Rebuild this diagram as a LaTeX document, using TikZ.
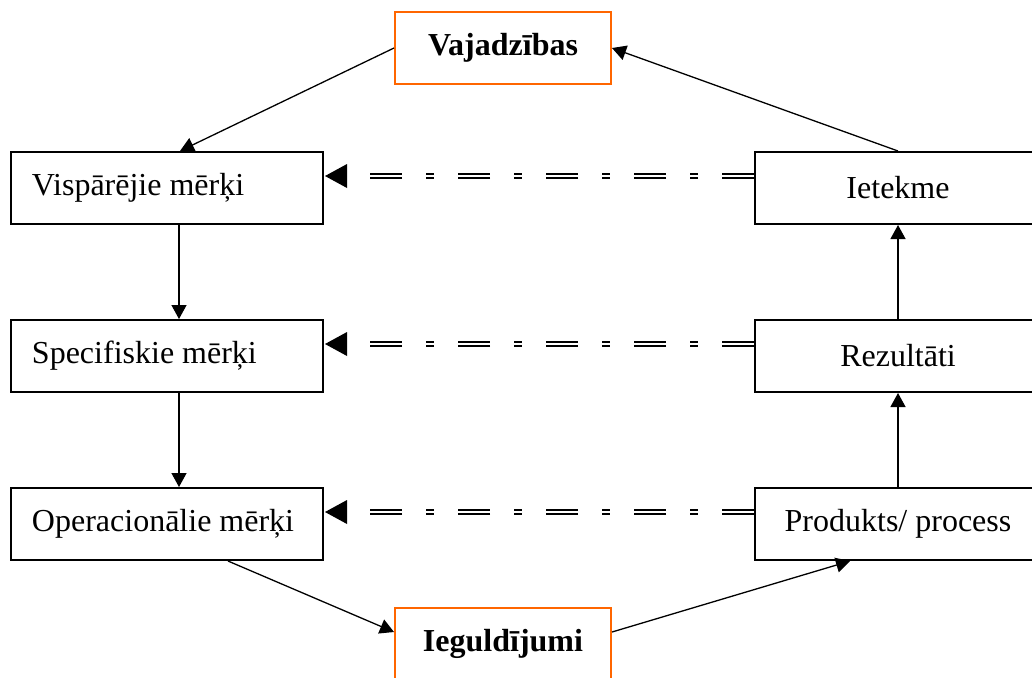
\documentclass[tikz,border=0pt]{standalone}
\usepackage{fontspec}
\setmainfont{Liberation Serif}
\usetikzlibrary{arrows.meta,calc}
\definecolor{boxorange}{RGB}{255,102,0}
\begin{document}
\begin{tikzpicture}[x=0.5pt,y=-0.5pt,
  box/.style={draw=black, line width=1pt, minimum height=36pt, inner sep=0pt, font=\fontsize{16}{19}\selectfont},
  leftbox/.style={box, text width=135pt, align=flush left, inner xsep=10.5pt},
  rightbox/.style={box, minimum width=143pt, align=center},
  keybox/.style={box, draw=boxorange, minimum width=108pt, font=\fontsize{16}{19}\selectfont\bfseries},
  conn/.style={line width=0.65pt, -{Triangle[length=7pt,width=7.5pt]}},
  dbl/.style={double, line width=1pt, double distance=1.25pt, dash pattern=on 16pt off 12.25pt on 3.75pt off 12pt},
  backtip/.style={fill=black}
]
\useasboundingbox (0,0) rectangle (1032,677);
\clip (0,0) rectangle (1032,677);
\fill[white] (0,0) rectangle (1032,677);

\node[keybox] (vaj) at (503,48) {Vajadzības};
\node[leftbox] (visp) at (167,188) {Vispārējie mērķi};
\node[leftbox] (spec) at (167,356) {Specifiskie mērķi};
\node[leftbox] (oper) at (167,524) {Operacionālie mērķi};
\node[rightbox] (iet) at (898,188) {Ietekme};
\node[rightbox] (rez) at (898,356) {Rezultāti};
\node[rightbox] (prod) at (898,524) {Produkts/ process};
\node[keybox] (ieg) at (503,644) {Ieguldījumi};

\draw[conn] (vaj.west) -- ($(visp.north)+(13,0)$);
\draw[conn] (iet.north) -- (vaj.east);
\draw[conn] ($(visp.south)+(12,0)$) -- ($(spec.north)+(12,0)$);
\draw[conn] ($(spec.south)+(12,0)$) -- ($(oper.north)+(12,0)$);
\draw[conn] (prod.north) -- (rez.south);
\draw[conn] (rez.north) -- (iet.south);
\draw[conn] ($(oper.south)+(61,0)$) -- ($(ieg.west)+(0,-12)$);
\draw[conn] ($(ieg.east)+(0,-12)$) -- ($(prod.south)+(-48,0)$);

\coordinate (t1) at ($(visp.east)+(23,-12)$);
\coordinate (t2) at ($(spec.east)+(23,-12)$);
\coordinate (t3) at ($(oper.east)+(23,-12)$);
\draw[dbl] ($(iet.west)+(0,-12)$) -- (t1);
\draw[dbl] ($(rez.west)+(0,-12)$) -- (t2);
\draw[dbl] ($(prod.west)+(0,-12)$) -- (t3);
\fill[backtip] ($(visp.east)+(1,-12)$) -- ($(t1)+(0,-12)$) -- ($(t1)+(0,12)$) -- cycle;
\fill[backtip] ($(spec.east)+(1,-12)$) -- ($(t2)+(0,-12)$) -- ($(t2)+(0,12)$) -- cycle;
\fill[backtip] ($(oper.east)+(1,-12)$) -- ($(t3)+(0,-12)$) -- ($(t3)+(0,12)$) -- cycle;
\end{tikzpicture}
\end{document}
